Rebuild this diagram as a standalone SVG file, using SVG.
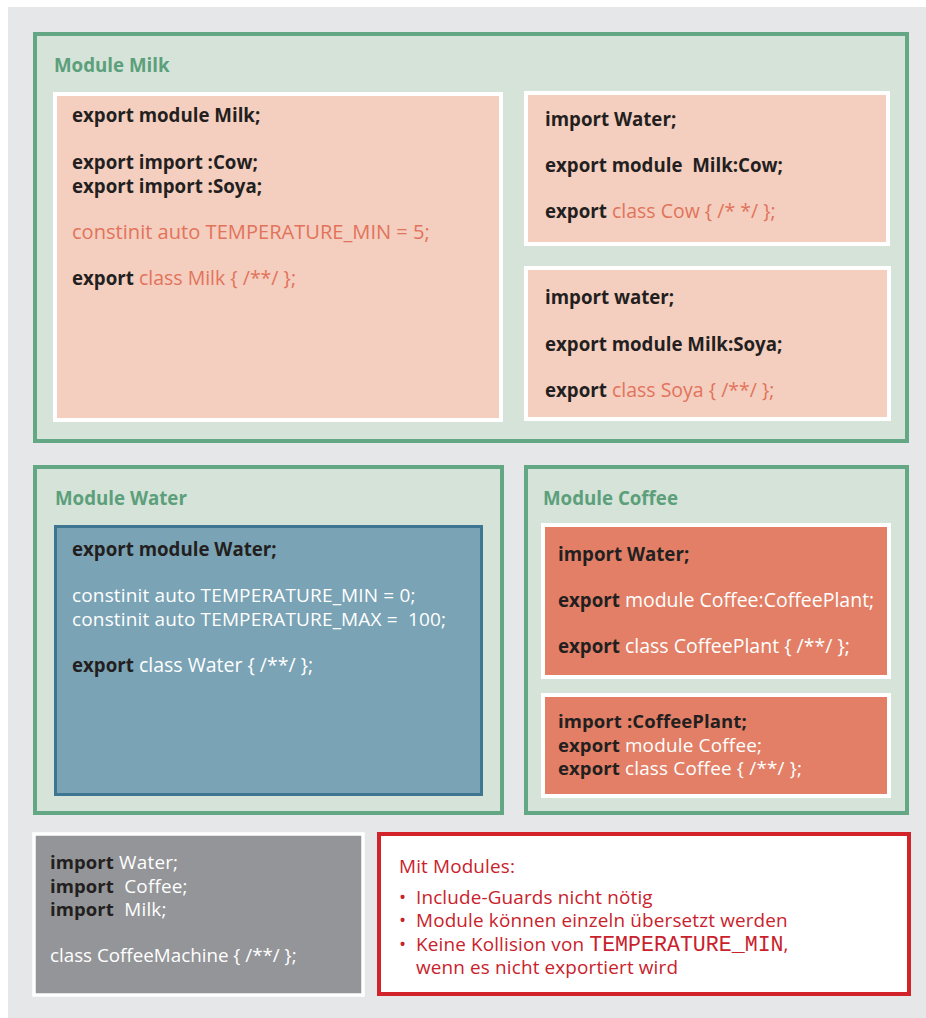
<svg xmlns="http://www.w3.org/2000/svg" width="926" height="1018" viewBox="0 0 926 1018">
  <style>
    text { font-family: "Open Sans", "Noto Sans", "Liberation Sans", sans-serif; font-size: 19.5px; }
    .module { fill: #d5e3d8; stroke: #64a784; stroke-width: 4; }
    .title { fill: #5c9f7b; font-weight: 700; font-size: 18.7px; }
    .pink { fill: #f4cebf; stroke: #ffffff; stroke-width: 4; }
    .coffee { fill: #e27f66; stroke: #ffffff; stroke-width: 4; }
    .water { fill: #7aa3b5; stroke: #3e7590; stroke-width: 3; }
    .app { fill: #939598; stroke: #ffffff; stroke-width: 3.5; }
    .note { fill: #ffffff; stroke: #d2232a; stroke-width: 4; }
    .kw { fill: #231f20; font-weight: 700; font-size: 18.7px; }
    .salmon { fill: #e2735b; font-weight: 400; font-size: 19.5px; }
    .light { fill: #ffffff; font-weight: 400; font-size: 19.5px; }
    .tight .light { font-size: 18.9px; letter-spacing: 0.2px; }
    .tight .kw { font-size: 18.5px; letter-spacing: 0.1px; }
    .const { font-size: 19px; letter-spacing: 0.15px; }
    .red { fill: #c9222c; font-size: 18.9px; letter-spacing: 0.15px; }
    .mono { font-family: "Liberation Mono", "DejaVu Sans Mono", monospace; font-size: 21.6px; letter-spacing: 0; }
  </style>

  <!-- page background -->
  <rect x="8" y="7" width="918" height="1011" fill="#e6e7e8"/>

  <!-- Module Milk -->
  <g id="module-milk">
    <rect class="module" x="35" y="34" width="872" height="407"/>
    <text class="title" x="54" y="72">Module Milk</text>
  </g>

  <g id="milk-primary">
    <rect class="pink" x="55" y="94" width="446" height="326"/>
    <text class="kw" x="72" y="122">export module Milk;</text>
    <text class="kw" x="72" y="169">export import :Cow;</text>
    <text class="kw" x="72" y="193">export import :Soya;</text>
    <text class="salmon" x="72" y="239" style="font-size:20.1px">constinit auto TEMPERATURE_MIN = 5;</text>
    <text x="72" y="285"><tspan class="kw">export</tspan><tspan class="salmon"> class Milk { /**/ };</tspan></text>
  </g>

  <g id="milk-cow">
    <rect class="pink" x="526" y="93" width="362" height="151"/>
    <text class="kw" x="545" y="126">import Water;</text>
    <text class="kw" x="545" y="172" xml:space="preserve">export module  Milk:Cow;</text>
    <text x="545" y="218"><tspan class="kw">export</tspan><tspan class="salmon"> class Cow { /* */ };</tspan></text>
  </g>

  <g id="milk-soya">
    <rect class="pink" x="526" y="268" width="363" height="151"/>
    <text class="kw" x="545" y="304">import water;</text>
    <text class="kw" x="545" y="351">export module Milk:Soya;</text>
    <text x="545" y="397"><tspan class="kw">export</tspan><tspan class="salmon"> class Soya { /**/ };</tspan></text>
  </g>

  <!-- Module Water -->
  <g id="module-water">
    <rect class="module" x="35" y="467" width="467" height="346"/>
    <text class="title" x="55" y="505">Module Water</text>
  </g>

  <g id="water-primary">
    <rect class="water" x="55.5" y="526.5" width="426" height="268"/>
    <text class="kw" x="72" y="556">export module Water;</text>
    <text class="light const" x="72" y="601.5">constinit auto TEMPERATURE_MIN = 0;</text>
    <text class="light const" x="72" y="626" xml:space="preserve">constinit auto TEMPERATURE_MAX =  100;</text>
    <text x="72" y="672"><tspan class="kw">export</tspan><tspan class="light"> class Water { /**/ };</tspan></text>
  </g>

  <!-- Module Coffee -->
  <g id="module-coffee">
    <rect class="module" x="526" y="467" width="381" height="346"/>
    <text class="title" x="543" y="505">Module Coffee</text>
  </g>

  <g id="coffee-plant">
    <rect class="coffee" x="543" y="525" width="346" height="152"/>
    <text class="kw" x="558" y="561">import Water;</text>
    <text x="558" y="607"><tspan class="kw">export</tspan><tspan class="light"> module Coffee:CoffeePlant;</tspan></text>
    <text x="558" y="653"><tspan class="kw">export</tspan><tspan class="light"> class CoffeePlant { /**/ };</tspan></text>
  </g>

  <g id="coffee-primary" class="tight">
    <rect class="coffee" x="543" y="695" width="346" height="101"/>
    <text class="kw" x="558" y="728">import :CoffeePlant;</text>
    <text x="558" y="751.5"><tspan class="kw">export</tspan><tspan class="light"> module Coffee;</tspan></text>
    <text x="558" y="775"><tspan class="kw">export</tspan><tspan class="light"> class Coffee { /**/ };</tspan></text>
  </g>

  <!-- Consumer -->
  <g id="coffee-machine" class="tight">
    <rect class="app" x="34" y="834" width="329" height="161"/>
    <text x="50" y="869"><tspan class="kw">import</tspan><tspan class="light"> Water;</tspan></text>
    <text x="50" y="892.5" xml:space="preserve"><tspan class="kw">import</tspan><tspan class="light">  Coffee;</tspan></text>
    <text x="50" y="916" xml:space="preserve"><tspan class="kw">import</tspan><tspan class="light">  Milk;</tspan></text>
    <text class="light" x="50" y="962" style="font-size:18.8px; letter-spacing:0">class CoffeeMachine { /**/ };</text>
  </g>

  <!-- Summary -->
  <g id="summary">
    <rect class="note" x="379" y="834" width="530" height="160"/>
    <text class="red" x="399" y="873">Mit Modules:</text>
    <text class="red" x="399" y="903.5">•<tspan x="416">Include-Guards nicht nötig</tspan></text>
    <text class="red" x="399" y="927">•<tspan x="416">Module können einzeln übersetzt werden</tspan></text>
    <text class="red" x="399" y="950.5">•<tspan x="416">Keine Kollision von </tspan><tspan class="mono">TEMPERATURE_MIN</tspan>,</text>
    <text class="red" x="416" y="974">wenn es nicht exportiert wird</text>
  </g>

  <g id="connectors"/>
</svg>
